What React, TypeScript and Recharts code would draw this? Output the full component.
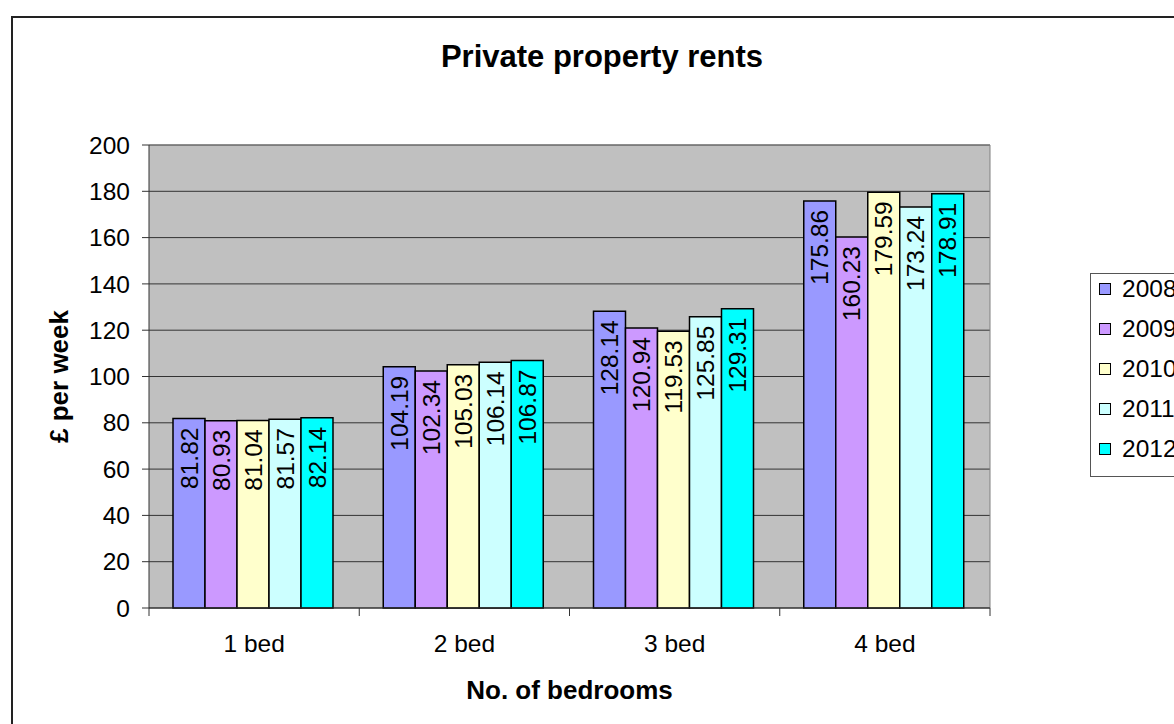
import React from "react"
import {
  BarChart, Bar, XAxis, YAxis, CartesianGrid, Legend, LabelList, Label,
} from "recharts"

const categories = ["1 bed", "2 bed", "3 bed", "4 bed"]
const years = ["2008", "2009", "2010", "2011", "2012"]
const rents2008 = [81.82, 104.19, 128.14, 175.86]
const rents2009 = [80.93, 102.34, 120.94, 160.23]
const rents2010 = [81.04, 105.03, 119.53, 179.59]
const rents2011 = [81.57, 106.14, 125.85, 173.24]
const rents2012 = [82.14, 106.87, 129.31, 178.91]
const yTicks = [0, 20, 40, 60, 80, 100, 120, 140, 160, 180, 200]
const colors = ["#9999FF", "#CC99FF", "#FFFFCC", "#CCFFFF", "#00FFFF"]

const seriesValues = [rents2008, rents2009, rents2010, rents2011, rents2012]

const data = categories.map((name, i) => {
  const row: Record<string, string | number> = { name }
  years.forEach((y, j) => { row[y] = seriesValues[j][i] })
  return row
})

const FONT = "'Liberation Sans', Arial, Helvetica, sans-serif"
const W = 1174
const H = 724
const MARGIN = { top: 145, right: 184, bottom: 0, left: 0 }
const Y_AXIS_W = 149
const X_AXIS_H = 116
const TICK_SIZE = 8
const TICK_MARGIN = 19
const BAND = (W - MARGIN.left - MARGIN.right - Y_AXIS_W) / categories.length
const TEXT_SIZE = 24.5
const AXIS_TITLE_SIZE = 26

function BedTick(props: any) {
  const { x, y, payload, index } = props
  const axisY = y - TICK_SIZE - TICK_MARGIN
  const last = index === categories.length - 1
  return (
    <g>
      <line x1={x - BAND / 2} x2={x - BAND / 2} y1={axisY} y2={axisY + TICK_SIZE} stroke="#333" />
      {last && (
        <line x1={x + BAND / 2} x2={x + BAND / 2} y1={axisY} y2={axisY + TICK_SIZE} stroke="#333" />
      )}
      <text x={x} y={y} dy="0.71em" textAnchor="middle" fontSize={TEXT_SIZE} fill="#000" fontFamily={FONT}>
        {payload.value}
      </text>
    </g>
  )
}

function ValueLabel(props: any) {
  const { x, y, width, value } = props
  return (
    <text
      transform={`translate(${x + width / 2},${y + 9}) rotate(-90)`}
      textAnchor="end"
      dominantBaseline="central"
      fontSize={TEXT_SIZE}
      fill="#000"
      fontFamily={FONT}
    >
      {Number(value).toFixed(2)}
    </text>
  )
}

function YTitle(props: any) {
  const { viewBox } = props
  return (
    <text
      transform={`translate(${viewBox.x + 59},${viewBox.y + viewBox.height / 2}) rotate(-90)`}
      textAnchor="middle"
      dominantBaseline="central"
      fontSize={AXIS_TITLE_SIZE}
      fontWeight="bold"
      fill="#000"
      fontFamily={FONT}
    >
      £ per week
    </text>
  )
}

function XTitle(props: any) {
  const { viewBox } = props
  return (
    <text
      x={viewBox.x + viewBox.width / 2}
      y={viewBox.y + viewBox.height - 25}
      textAnchor="middle"
      fontSize={AXIS_TITLE_SIZE}
      fontWeight="bold"
      fill="#000"
      fontFamily={FONT}
    >
      No. of bedrooms
    </text>
  )
}

function LegendBox(props: any) {
  const { payload } = props
  return (
    <div style={{ border: "1px solid #555", height: 204, boxSizing: "border-box", background: "#fff", fontFamily: FONT }}>
      <div style={{ marginTop: -5 }}>
        {payload.map((p: any) => (
          <div key={p.value} style={{ display: "flex", alignItems: "center", height: 40, paddingLeft: 8 }}>
            <span style={{ width: 10, height: 10, background: p.color, border: "1.5px solid #000", marginRight: 11 }} />
            <span style={{ fontSize: TEXT_SIZE, color: "#000" }}>{p.value}</span>
          </div>
        ))}
      </div>
    </div>
  )
}

export default function App() {
  return (
    <div style={{ position: "absolute", left: 0, top: 0, width: W, height: H, overflow: "hidden", background: "#fff", fontFamily: FONT }}>
      <div style={{ position: "absolute", left: 11, top: 16, width: 1300, height: 900, border: "2px solid #222" }} />
      <div style={{ position: "absolute", left: 0, top: 41, width: 1204, textAlign: "center", fontSize: 31, lineHeight: "31px", fontWeight: "bold", color: "#000" }}>
        Private property rents
      </div>
      <div style={{ position: "absolute", left: 0, top: 0 }}>
        <BarChart width={W} height={H} data={data} margin={MARGIN} barCategoryGap={24} barGap={0}>
          <CartesianGrid fill="#C0C0C0" stroke="#333" vertical={false} />
          <CartesianGrid
            stroke="#808080"
            fill="none"
            verticalCoordinatesGenerator={({ offset }: any) => [offset.left + offset.width]}
            horizontalCoordinatesGenerator={({ offset }: any) => [offset.top]}
          />
          <XAxis
            dataKey="name"
            height={X_AXIS_H}
            stroke="#333"
            tickLine={false}
            tickSize={TICK_SIZE}
            tickMargin={TICK_MARGIN}
            tick={<BedTick />}
            interval={0}
          >
            <Label content={<XTitle />} />
          </XAxis>
          <YAxis
            width={Y_AXIS_W}
            domain={[0, 200]}
            ticks={yTicks}
            interval={0}
            stroke="#333"
            tickSize={7}
            tickMargin={12}
            tick={{ fontSize: TEXT_SIZE, fill: "#000", fontFamily: FONT }}
          >
            <Label content={<YTitle />} />
          </YAxis>
          <Legend
            layout="vertical"
            align="center"
            verticalAlign="middle"
            wrapperStyle={{ left: 1090, top: 273, width: 120, height: 205 }}
            content={<LegendBox />}
          />
          {years.map((y, j) => (
            <Bar key={y} dataKey={y} name={y} fill={colors[j]} stroke="#000" strokeWidth={1.5} isAnimationActive={false}>
              <LabelList dataKey={y} content={<ValueLabel />} />
            </Bar>
          ))}
        </BarChart>
      </div>
    </div>
  )
}
